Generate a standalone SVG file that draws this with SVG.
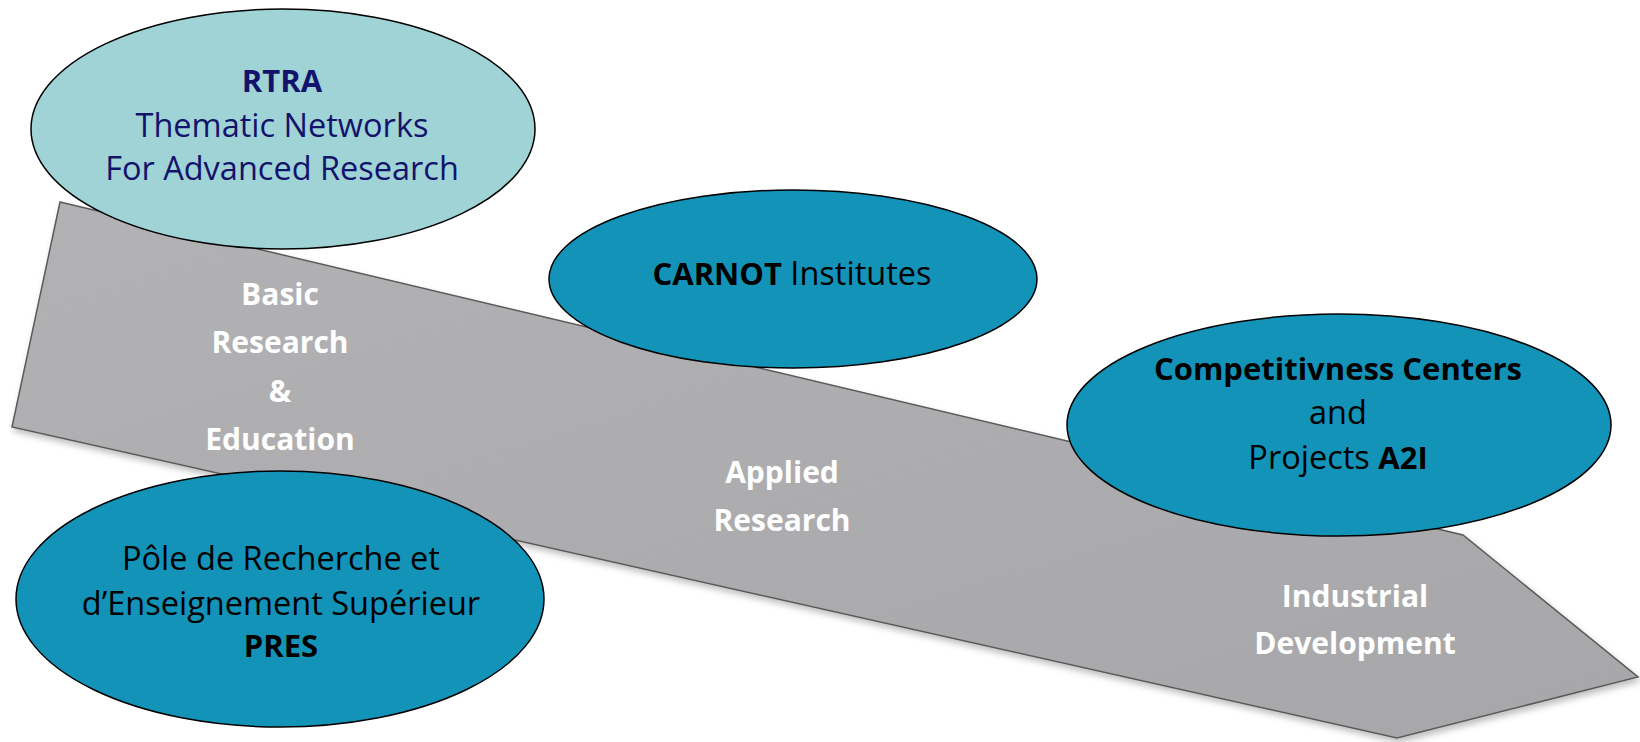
<svg xmlns="http://www.w3.org/2000/svg" width="1640" height="742" viewBox="0 0 1640 742">
<defs>
<linearGradient id="g" x1="0" y1="0" x2="1" y2="1">
<stop offset="0" stop-color="#b2b2b4"/>
<stop offset="1" stop-color="#a7a7a9"/>
</linearGradient>
<filter id="sh" x="-5%" y="-5%" width="110%" height="115%">
<feDropShadow dx="2" dy="4" stdDeviation="3" flood-color="#000" flood-opacity="0.25"/>
</filter>
<style>
.t{font-family:"Open Sans","Liberation Sans",Arial,sans-serif;font-size:32.5px;text-anchor:middle}
.w{fill:#ffffff;font-weight:bold;font-size:30px}
.k{fill:#000000}
.n{fill:#13136b}
.b{font-weight:bold;font-size:31px}
.e1{fill:#9fd3d6;stroke:#000;stroke-width:1.5}
.e2{fill:#1493b8;stroke:#000;stroke-width:1.5}
</style>
</defs>
<rect width="1640" height="742" fill="#ffffff"/>
<g id="arrow">
<polygon points="60,202 1463,535 1638,677 1397,738 12,427" fill="url(#g)" stroke="#5a5a5a" stroke-width="1.5" filter="url(#sh)"/>
<text class="t w" x="280" y="305">Basic</text>
<text class="t w" x="280" y="353">Research</text>
<text class="t w" x="280" y="402">&amp;</text>
<text class="t w" x="280" y="450">Education</text>
<text class="t w" x="782" y="483">Applied</text>
<text class="t w" x="782" y="531">Research</text>
<text class="t w" x="1355" y="607">Industrial</text>
<text class="t w" x="1355" y="654">Development</text>
</g>
<g id="connectors"></g>
<g id="rtra">
<ellipse class="e1" cx="283" cy="129" rx="252" ry="120"/>
<text class="t n b" x="282" y="92">RTRA</text>
<text class="t n" x="282" y="137">Thematic Networks</text>
<text class="t n" x="282" y="180">For Advanced Research</text>
</g>
<g id="carnot">
<ellipse class="e2" cx="793" cy="279" rx="244" ry="89"/>
<text class="t k" x="792" y="285"><tspan class="b">CARNOT</tspan> Institutes</text>
</g>
<g id="competitiveness">
<ellipse class="e2" cx="1339" cy="425" rx="272" ry="111"/>
<text class="t k b" x="1338" y="380">Competitivness Centers</text>
<text class="t k" x="1338" y="424">and</text>
<text class="t k" x="1338" y="469">Projects <tspan class="b">A2I</tspan></text>
</g>
<g id="pres">
<ellipse class="e2" cx="280" cy="599" rx="264" ry="128"/>
<text class="t k" x="281" y="570">Pôle de Recherche et</text>
<text class="t k" x="281" y="615">d’Enseignement Supérieur</text>
<text class="t k b" x="281" y="657">PRES</text>
</g>
</svg>
